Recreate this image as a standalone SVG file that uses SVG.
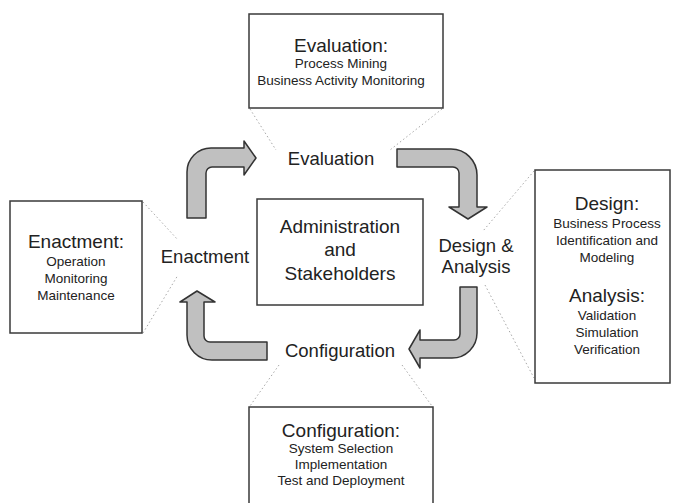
<svg xmlns="http://www.w3.org/2000/svg" width="675" height="503" viewBox="0 0 675 503">
<style>
.box{fill:#fff;stroke:#3a3a3a;stroke-width:1.5}
.arrow{fill:#c0c0c0;stroke:#333;stroke-width:1.5;stroke-linejoin:round}
.dot{fill:none;stroke:#a8a8a8;stroke-width:1;stroke-dasharray:1.5 2.5}
text{font-family:"Liberation Sans",Arial,sans-serif;fill:#222;text-anchor:middle}
.lbl{font-size:18.5px}
.ttl{font-size:19px}
.sub{font-size:13.5px}
</style>
<rect width="675" height="503" fill="#fff"/>
<g id="connectors">
<path class="dot" d="M250,109 L276,150"/>
<path class="dot" d="M442,109 L390,150"/>
<path class="dot" d="M143,202 L178,240"/>
<path class="dot" d="M143,333 L178,275"/>
<path class="dot" d="M534,171 L483,231"/>
<path class="dot" d="M485,285 L534,378"/>
<path class="dot" d="M279,365 L250,406"/>
<path class="dot" d="M402,365 L432,406"/>
<path class="arrow" d="M187,218 L187,172 A24,24 0 0 1 211,148 L244,148 L244,141 L256,158 L244,175 L244,167 L212,167 A6,6 0 0 0 206,173 L206,218 Z"/>
<path class="arrow" d="M397,149 L451,149 A26,26 0 0 1 477,175 L477,207 L487,207 L468,219 L449,207 L459,207 L459,173 A6,6 0 0 0 453,167 L397,167 Z"/>
<path class="arrow" d="M460,287 L477,287 L477,333 A25,25 0 0 1 452,358 L420,358 L420,368 L409,349 L420,330 L420,340 L454,340 A6,6 0 0 0 460,334 Z"/>
<path class="arrow" d="M267,342 L210,342 A6,6 0 0 1 204,336 L204,302 L215,302 L197,291 L180,302 L187,302 L187,335 A25,25 0 0 0 212,360 L267,360 Z"/>
</g>
<g id="evaluation-box">
<rect class="box" x="249" y="14" width="194" height="94"/>
<text class="ttl" x="341" y="52">Evaluation:</text>
<text class="sub" x="341" y="68">Process Mining</text>
<text class="sub" x="341" y="85">Business Activity Monitoring</text>
</g>
<g id="evaluation">
<text class="lbl" x="331" y="165">Evaluation</text>
</g>
<g id="enactment-box">
<rect class="box" x="10" y="201" width="132" height="132"/>
<text class="ttl" x="76" y="248">Enactment:</text>
<text class="sub" x="76" y="266">Operation</text>
<text class="sub" x="76" y="283">Monitoring</text>
<text class="sub" x="76" y="300">Maintenance</text>
</g>
<g id="enactment">
<text class="lbl" x="205" y="263">Enactment</text>
</g>
<g id="administration">
<rect class="box" x="257" y="199" width="166" height="106"/>
<text class="ttl" x="340" y="233">Administration</text>
<text class="ttl" x="340" y="256">and</text>
<text class="ttl" x="340" y="280">Stakeholders</text>
</g>
<g id="design-analysis">
<text class="lbl" x="476" y="252">Design &amp;</text>
<text class="lbl" x="476" y="273">Analysis</text>
</g>
<g id="design-box">
<rect class="box" x="535" y="170" width="135" height="213"/>
<text class="ttl" x="607" y="210">Design:</text>
<text class="sub" x="607" y="228">Business Process</text>
<text class="sub" x="607" y="245">Identification and</text>
<text class="sub" x="607" y="262">Modeling</text>
<text class="ttl" x="607" y="302">Analysis:</text>
<text class="sub" x="607" y="320">Validation</text>
<text class="sub" x="607" y="337">Simulation</text>
<text class="sub" x="607" y="354">Verification</text>
</g>
<g id="configuration">
<text class="lbl" x="340" y="357">Configuration</text>
</g>
<g id="configuration-box">
<rect class="box" x="249" y="407" width="184" height="110"/>
<text class="ttl" x="341" y="437">Configuration:</text>
<text class="sub" x="341" y="453">System Selection</text>
<text class="sub" x="341" y="469">Implementation</text>
<text class="sub" x="341" y="485">Test and Deployment</text>
</g>
</svg>
